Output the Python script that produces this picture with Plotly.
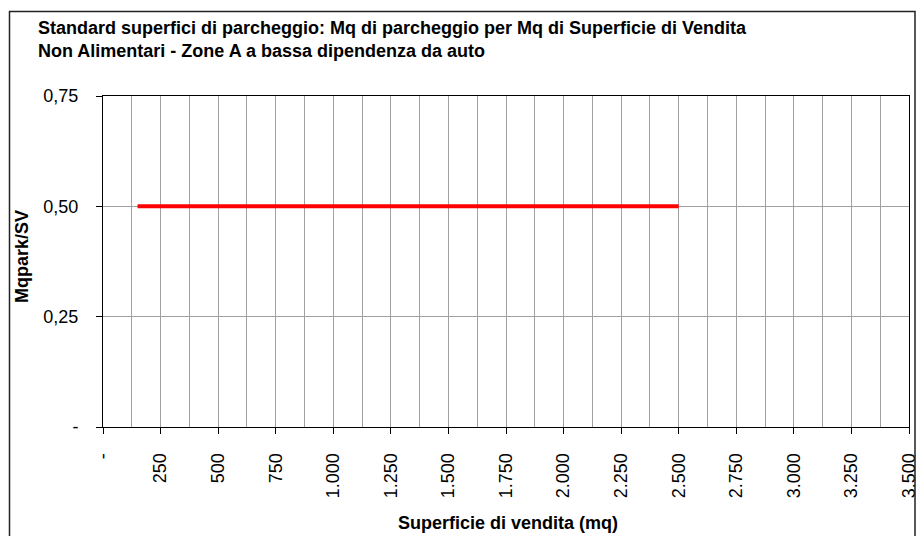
import plotly.graph_objects as go

# ---- data ----
x_values = [150, 2500]
y_values = [0.5, 0.5]
x_tickvals = [0, 250, 500, 750, 1000, 1250, 1500, 1750, 2000, 2250, 2500, 2750, 3000, 3250, 3500]
x_ticktext = ["-", "250", "500", "750", "1.000", "1.250", "1.500", "1.750", "2.000",
              "2.250", "2.500", "2.750", "3.000", "3.250", "3.500"]
y_tickvals = [0, 0.25, 0.5, 0.75]
y_ticktext = ["-", "0,25", "0,50", "0,75"]
title_line1 = "Standard superfici di parcheggio: Mq di parcheggio per Mq di Superficie di Vendita"
title_line2 = "Non Alimentari - Zone A a bassa dipendenza da auto"
x_title = "Superficie di vendita (mq)"
y_title = "Mqpark/SV"

FONT = "Liberation Sans, Arial, sans-serif"
W, H = 916, 536
L, R, T, B = 103, 7, 96, 109
PW, PH = W - L - R, H - T - B

def px_x(px):
    return (px - L) / PW

def px_y(py):
    return (H - B - py) / PH

fig = go.Figure()
fig.add_trace(go.Scatter(x=x_values, y=y_values, mode="lines",
                         line=dict(color="#ff0000", width=4), showlegend=False,
                         hoverinfo="skip"))

fig.update_layout(
    width=W, height=H,
    margin=dict(l=L, r=R, t=T, b=B, autoexpand=False),
    paper_bgcolor="white", plot_bgcolor="white",
    font=dict(family=FONT, size=18, color="black"),
    showlegend=False,
)

fig.update_xaxes(
    range=[0, 3500], tickvals=x_tickvals, ticktext=x_ticktext, tickangle=-90,
    ticks="outside", ticklen=6, tickcolor="black", ticklabelstandoff=12,
    ticklabeloverflow="allow", automargin=False,
    showline=True, linecolor="black", linewidth=1, mirror=True,
    showgrid=True, gridcolor="#a0a0a0", gridwidth=1,
    minor=dict(dtick=125, tick0=0, showgrid=True, gridcolor="#a0a0a0", gridwidth=1, ticks=""),
    zeroline=False, tickfont=dict(size=18),
)
fig.update_yaxes(
    range=[0, 0.75], tickvals=y_tickvals, ticktext=y_ticktext,
    ticks="outside", ticklen=6, tickcolor="black", ticklabelstandoff=14,
    ticklabeloverflow="allow", automargin=False,
    showline=True, linecolor="black", linewidth=1, mirror=True,
    showgrid=True, gridcolor="#a0a0a0", gridwidth=1,
    zeroline=False, tickfont=dict(size=18),
)

ann = []
ann.append(dict(text="<b>%s</b>" % title_line1, xref="paper", yref="paper",
                x=px_x(36), y=px_y(28), xanchor="left", yanchor="middle",
                showarrow=False, font=dict(size=18)))
ann.append(dict(text="<b>%s</b>" % title_line2, xref="paper", yref="paper",
                x=px_x(36), y=px_y(51), xanchor="left", yanchor="middle",
                showarrow=False, font=dict(size=18)))
ann.append(dict(text="<b>%s</b>" % x_title, xref="paper", yref="paper",
                x=px_x(508), y=px_y(523), xanchor="center", yanchor="middle",
                showarrow=False, font=dict(size=18)))
ann.append(dict(text="<b>%s</b>" % y_title, xref="paper", yref="paper",
                x=px_x(22), y=px_y(257), xanchor="center", yanchor="middle",
                textangle=-90, showarrow=False, font=dict(size=18)))
fig.update_layout(annotations=ann)

fig.add_shape(type="rect", xref="paper", yref="paper",
              x0=px_x(9.5), x1=px_x(915), y0=px_y(560), y1=px_y(11.5),
              line=dict(color="#222222", width=1.5), fillcolor="rgba(0,0,0,0)", layer="above")

fig.write_html("out.html", config={"displayModeBar": False},
               post_script="document.body.style.margin='0';document.body.style.overflow='hidden';")
